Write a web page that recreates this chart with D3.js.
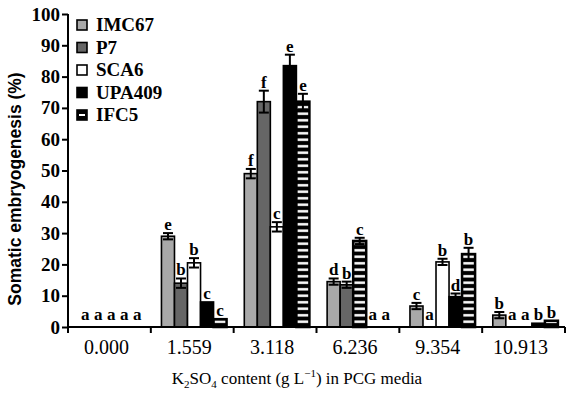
<!DOCTYPE html>
<html>
<head>
<meta charset="utf-8">
<script src="https://cdn.jsdelivr.net/npm/d3@7"></script>
<style>
  body { margin: 0; background: #fff; }
  svg { display: block; }
</style>
</head>
<body>
<svg id="chart" width="566" height="394"></svg>
<script>
const groups = ["0.000", "1.559", "3.118", "6.236", "9.354", "10.913"];
const seriesNames = ["IMC67", "P7", "SCA6", "UPA409", "IFC5"];

// mean values (%) per group
const imc67 = [0, 29, 49, 14.5, 6.7, 3.8];
const p7 = [0, 14, 72, 13.5, 0, 0];
const sca6 = [0, 20.5, 32, 0, 20.8, 0];
const upa409 = [0, 8, 83.5, 0, 9.7, 1.2];
const ifc5 = [0, 2.5, 72, 27.5, 23.3, 2];

// error bars
const imc67Err = [0, 1, 1.5, 1, 1, 1];
const p7Err = [0, 1.5, 3.5, 1, 0, 0];
const sca6Err = [0, 1.5, 1.5, 0, 1, 0];
const upa409Err = [0, 0, 3.5, 0, 1, 0];
const ifc5Err = [0, 0, 2.5, 1, 2, 0];

// significance letters
const imc67Let = ["a", "e", "f", "d", "c", "b"];
const p7Let = ["a", "b", "f", "b", "a", "a"];
const sca6Let = ["a", "b", "c", "a", "b", "a"];
const upa409Let = ["a", "c", "e", "a", "d", "b"];
const ifc5Let = ["a", "c", "e", "c", "b", "b"];

// slot order of the series inside each group (6.236 has IFC5 drawn third)
const slotOrder = [
  [0, 1, 2, 3, 4],
  [0, 1, 2, 3, 4],
  [0, 1, 2, 3, 4],
  [0, 1, 4, 2, 3],
  [0, 1, 2, 3, 4],
  [0, 1, 2, 3, 4]
];

const yTicks = [0, 10, 20, 30, 40, 50, 60, 70, 80, 90, 100];

const allValues = [imc67, p7, sca6, upa409, ifc5];
const allErr = [imc67Err, p7Err, sca6Err, upa409Err, ifc5Err];
const allLet = [imc67Let, p7Let, sca6Let, upa409Let, ifc5Let];
const fills = ["#a9a9a9", "#666666", "#ffffff", "#000000", "url(#stripes)"];

const SERIF = "'Liberation Serif', 'Times New Roman', serif";
const SANS = "'Liberation Sans', Arial, sans-serif";

const svg = d3.select("#chart");

// striped fill for IFC5
const defs = svg.append("defs");
const pat = defs.append("pattern")
  .attr("id", "stripes")
  .attr("patternUnits", "userSpaceOnUse")
  .attr("width", 20).attr("height", 6.5);
pat.append("rect").attr("width", 20).attr("height", 6.5).attr("fill", "#000");
pat.append("rect").attr("y", 2).attr("width", 20).attr("height", 2.5).attr("fill", "#fff");

const x = d3.scaleBand().domain(groups).range([68, 565]);
const slot = d3.scaleBand().domain(d3.range(5)).range([0, x.bandwidth()])
  .paddingInner(0).paddingOuter(0.68).align(0.6);
const y = d3.scaleLinear().domain([0, 100]).range([327, 14]);

// bars
const bars = [];
groups.forEach((g, gi) => {
  slotOrder[gi].forEach((si, k) => {
    bars.push({
      g, gi, si, k,
      v: allValues[si][gi],
      e: allErr[si][gi],
      l: allLet[si][gi]
    });
  });
});

const barG = svg.append("g");
barG.selectAll("rect")
  .data(bars.filter(d => d.v > 0))
  .join("rect")
  .attr("x", d => x(d.g) + slot(d.k))
  .attr("y", d => y(d.v))
  .attr("width", slot.bandwidth())
  .attr("height", d => y(0) - y(d.v))
  .attr("fill", d => fills[d.si])
  .attr("stroke", "#000")
  .attr("stroke-width", d => d.si === 4 ? 2.5 : 1.6);

// error bars
const errG = svg.append("g").attr("stroke", "#000").attr("stroke-width", 2);
bars.filter(d => d.e > 0).forEach(d => {
  const cx = x(d.g) + slot(d.k) + slot.bandwidth() / 2;
  const hw = 5;
  errG.append("line").attr("x1", cx).attr("x2", cx)
    .attr("y1", y(d.v - d.e)).attr("y2", y(d.v + d.e));
  errG.append("line").attr("x1", cx - hw).attr("x2", cx + hw)
    .attr("y1", y(d.v + d.e)).attr("y2", y(d.v + d.e));
  errG.append("line").attr("x1", cx - hw).attr("x2", cx + hw)
    .attr("y1", y(d.v - d.e)).attr("y2", y(d.v - d.e));
});

// letters
svg.append("g").selectAll("text")
  .data(bars)
  .join("text")
  .attr("x", d => x(d.g) + slot(d.k) + slot.bandwidth() / 2)
  .attr("y", d => d.v > 0 ? y(d.v + d.e) - 3 : 320)
  .attr("text-anchor", "middle")
  .attr("font-family", SERIF)
  .attr("font-weight", "bold")
  .attr("font-size", 17)
  .text(d => d.l);

// y axis
const yAxis = svg.append("g").attr("transform", "translate(68,0)")
  .call(d3.axisLeft(y).tickValues(yTicks).tickSize(6).tickPadding(2));
yAxis.select(".domain").attr("stroke-width", 2).attr("d", `M0,${y(100)}V${y(0)}`);
yAxis.selectAll(".tick line").attr("stroke-width", 2);
yAxis.selectAll(".tick text")
  .attr("font-family", SERIF).attr("font-weight", "bold").attr("font-size", 19)
  .attr("fill", "#000");

// x axis: ticks at group boundaries, labels in the middle
const xAxisG = svg.append("g").attr("transform", `translate(0,${y(0)})`);
xAxisG.append("line").attr("x1", 67).attr("x2", 565).attr("y1", 0).attr("y2", 0)
  .attr("stroke", "#000").attr("stroke-width", 2);
const bounds = groups.map(g => x(g)).concat([x.range()[1]]);
xAxisG.selectAll("line.tk").data(bounds).join("line").attr("class", "tk")
  .attr("x1", d => d).attr("x2", d => d).attr("y1", 0).attr("y2", 6)
  .attr("stroke", "#000").attr("stroke-width", 2);
xAxisG.selectAll("text").data(groups).join("text")
  .attr("x", d => x(d) + x.bandwidth() / 2 - 3)
  .attr("y", 27)
  .attr("text-anchor", "middle")
  .attr("font-family", SERIF).attr("font-size", 20)
  .text(d => d);

// x title
const xt = svg.append("text")
  .attr("x", 297).attr("y", 384)
  .attr("text-anchor", "middle")
  .attr("font-family", SERIF).attr("font-size", 17);
xt.append("tspan").text("K");
xt.append("tspan").attr("font-size", 11).attr("dy", 4).text("2");
xt.append("tspan").attr("dy", -4).text("SO");
xt.append("tspan").attr("font-size", 11).attr("dy", 4).text("4");
xt.append("tspan").attr("dy", -4).text(" content (g L");
xt.append("tspan").attr("font-size", 11).attr("dy", -7).text("\u22121");
xt.append("tspan").attr("dy", 7).text(") in PCG media");

// y title
svg.append("text")
  .attr("transform", "translate(21,189) rotate(-90)")
  .attr("text-anchor", "middle")
  .attr("font-family", SANS).attr("font-weight", "bold").attr("font-size", 17.5)
  .text("Somatic embryogenesis (%)");

// legend
const leg = svg.append("g").attr("transform", "translate(77,20)");
seriesNames.forEach((name, i) => {
  const row = leg.append("g").attr("transform", `translate(0,${i * 22.5})`);
  row.append("rect").attr("width", 10).attr("height", 10)
    .attr("fill", i === 4 ? "#000" : fills[i])
    .attr("stroke", "#000").attr("stroke-width", 1.6);
  if (i === 4) {
    row.append("rect").attr("x", 2).attr("y", 4).attr("width", 6).attr("height", 2).attr("fill", "#fff");
  }
  row.append("text").attr("x", 19).attr("y", 11)
    .attr("font-family", SERIF).attr("font-weight", "bold").attr("font-size", 19)
    .text(name);
});
</script>
</body>
</html>
